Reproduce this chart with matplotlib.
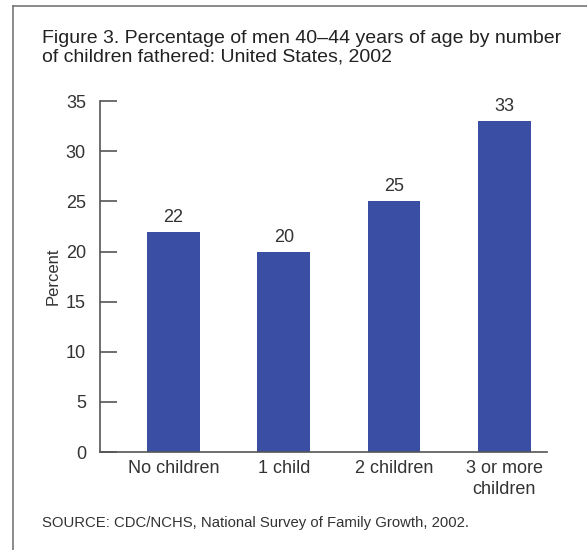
import matplotlib.pyplot as plt
from matplotlib.lines import Line2D

# data
categories = ["No children", "1 child", "2 children", "3 or more\nchildren"]
percent = [22, 20, 25, 33]
y_ticks = [0, 5, 10, 15, 20, 25, 30, 35]

plt.rcParams['font.family'] = ['Liberation Sans', 'DejaVu Sans']
text_color = "#333333"
bar_color = "#3A4FA3"

fig = plt.figure(figsize=(5.87, 5.5), dpi=100)
ax = fig.add_axes([0.170, 0.178, 0.762, 0.638])

x = list(range(len(categories)))
ax.bar(x, percent, width=0.48, color=bar_color)
for xi, v in zip(x, percent):
    ax.text(xi, v + 0.6, str(v), ha="center", va="bottom", fontsize=13, color=text_color)

ax.set_xlim(-0.67, 3.39)
ax.set_ylim(0, 35)
ax.set_yticks(y_ticks)
ax.set_xticks(x)
ax.set_xticklabels(categories, fontsize=13, color=text_color, linespacing=1.3)
ax.tick_params(axis="y", direction="in", length=12, width=1.2, color="#555555",
               labelsize=13, labelcolor=text_color, pad=10)
ax.tick_params(axis="x", length=0, pad=6)
ax.set_ylabel("Percent", fontsize=12, color=text_color, labelpad=4)

for side in ["top", "right"]:
    ax.spines[side].set_visible(False)
for side in ["left", "bottom"]:
    ax.spines[side].set_color("#555555")
    ax.spines[side].set_linewidth(1.2)

fig.text(0.072, 0.946, "Figure 3. Percentage of men 40\u201344 years of age by number\n"
         "of children fathered: United States, 2002",
         fontsize=14, color="#222222", ha="left", va="top", linespacing=1.12)
fig.text(0.072, 0.049, "SOURCE: CDC/NCHS, National Survey of Family Growth, 2002.",
         fontsize=10.7, color=text_color, ha="left", va="center")

# frame lines (top and left only)
fig.add_artist(Line2D([13 / 587, 1], [1 - 6 / 550, 1 - 6 / 550], transform=fig.transFigure,
                      color="#777777", linewidth=1.2))
fig.add_artist(Line2D([13 / 587, 13 / 587], [0, 1 - 6 / 550], transform=fig.transFigure,
                      color="#777777", linewidth=1.2))

fig.savefig("out.png", dpi=100)
